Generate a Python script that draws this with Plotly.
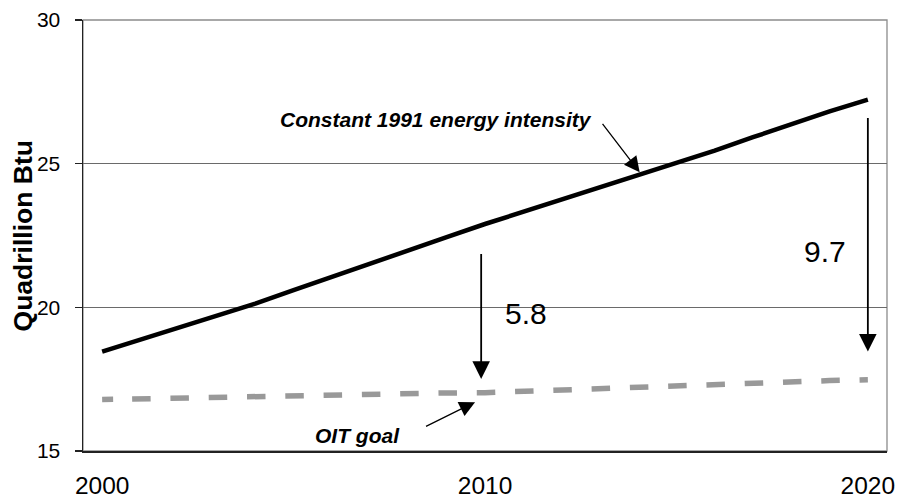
import plotly.graph_objects as go

years = list(range(2000, 2021))
constant_intensity = [18.46, 18.88, 19.29, 19.71, 20.13, 20.6, 21.07, 21.52, 21.98, 22.44, 22.9,
                      23.32, 23.73, 24.15, 24.57, 25.0, 25.45, 25.92, 26.38, 26.82, 27.23]
oit_goal = [16.79, 16.82, 16.84, 16.86, 16.9, 16.93, 16.96, 16.99, 17.01, 17.02, 17.03,
            17.08, 17.14, 17.19, 17.23, 17.27, 17.31, 17.36, 17.40, 17.45, 17.48]
x_ticks = [2000, 2010, 2020]
y_ticks = [15, 20, 25, 30]

FONT = "Liberation Sans, Arial, sans-serif"

fig = go.Figure()
fig.add_trace(go.Scatter(
    x=years, y=oit_goal, mode="lines", name="OIT goal",
    line=dict(color="#999999", width=5.5,
              dash="11px,19px," + ",".join(["18.5px,19.8px"] * 22)),
    hoverinfo="skip"))
fig.add_trace(go.Scatter(
    x=years, y=constant_intensity, mode="lines", name="Constant 1991 energy intensity",
    line=dict(color="#000000", width=4.5), hoverinfo="skip"))

annotations = []
# text labels
labels = [
    ("<b><i>Constant 1991 energy intensity</i></b>", 2008.72, 26.54, 21),
    ("5.8", 2011.07, 19.80, 30),
    ("9.7", 2018.87, 21.95, 30),
    ("<b><i>OIT goal</i></b>", 2006.68, 15.54, 21),
]
for text, x, y, size in labels:
    annotations.append(dict(text=text, x=x, y=y, xref="x", yref="y", showarrow=False,
                            xanchor="center", yanchor="middle",
                            font=dict(family=FONT, size=size, color="#000000")))
# arrows (tail -> tip)
arrows = [
    (2013.04, 26.44, 2014.04, 24.70, 1.3, 2.4),
    (2008.42, 15.83, 2009.74, 16.70, 1.3, 2.4),
    (2009.9, 21.91, 2009.9, 17.51, 1.8, 1.95),
    (2020.0, 26.64, 2020.0, 18.46, 1.8, 1.95),
]
for tx, ty, hx, hy, w, s in arrows:
    annotations.append(dict(text="", x=hx, y=hy, xref="x", yref="y",
                            ax=tx, ay=ty, axref="x", ayref="y",
                            showarrow=True, arrowhead=2, arrowwidth=w, arrowsize=s,
                            arrowcolor="#000000", standoff=0, startstandoff=0))
# y-axis title
annotations.append(dict(text="<b>Quadrillion Btu</b>", x=-0.0752, y=0.499,
                        xref="paper", yref="paper", showarrow=False, textangle=-90,
                        xanchor="center", yanchor="middle",
                        font=dict(family=FONT, size=26.5, color="#000000")))

fig.update_layout(
    width=897, height=503,
    margin=dict(l=83, r=10, t=20, b=52),
    paper_bgcolor="white", plot_bgcolor="white",
    showlegend=False,
    font=dict(family=FONT, color="#000000"),
    annotations=annotations,
    shapes=[dict(type="rect", xref="paper", yref="paper", x0=0, x1=1, y0=0, y1=1,
                 line=dict(color="#8c8c8c", width=1.3), layer="below")],
)
fig.update_xaxes(
    range=[1999.5, 2020.5], tickvals=x_ticks, ticktext=[str(v) for v in x_ticks],
    showgrid=False, zeroline=False, showline=True, linecolor="#222222", linewidth=1.5,
    ticks="", tickfont=dict(family=FONT, size=24.5, color="#000000"),
    ticklabelstandoff=12, automargin=False,
)
fig.update_yaxes(
    range=[15, 30], tickvals=y_ticks, ticktext=[str(v) for v in y_ticks],
    showgrid=True, gridcolor="#6a6a6a", gridwidth=1, zeroline=False,
    showline=True, linecolor="#222222", linewidth=1.5,
    ticks="outside", ticklen=7, tickcolor="#222222", tickwidth=1.3,
    tickfont=dict(family=FONT, size=21, color="#000000"),
    ticklabelstandoff=10, automargin=False,
)

fig.write_html("out.html", config={"displayModeBar": False, "staticPlot": True},
               post_script="document.body.style.margin='0';document.body.style.overflow='hidden';")
